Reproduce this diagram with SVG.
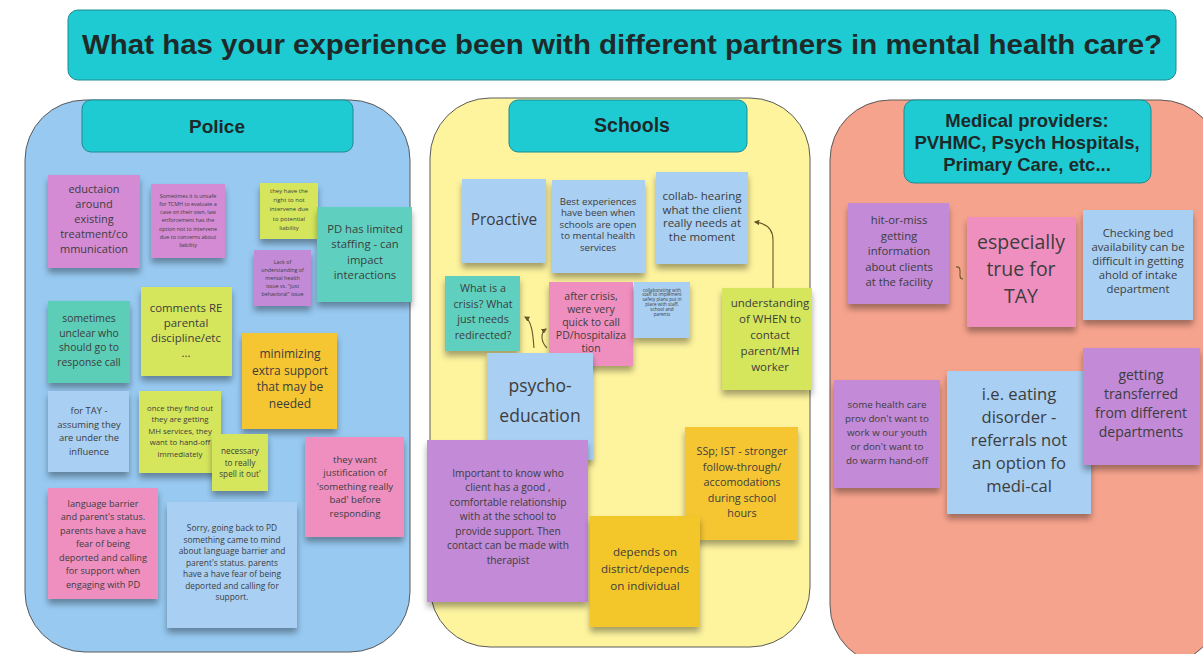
<svg xmlns="http://www.w3.org/2000/svg" width="1203" height="654" viewBox="0 0 1203 654">
<defs>
<filter id="sh" x="-20%" y="-20%" width="140%" height="150%">
<feDropShadow dx="0" dy="5" stdDeviation="3" flood-color="#000" flood-opacity="0.35"/>
</filter>
<marker id="ah" viewBox="0 0 10 10" refX="8" refY="5" markerWidth="5" markerHeight="5" orient="auto-start-reverse">
<path d="M0,0 L10,5 L0,10 Z" fill="#6b5526"/>
</marker>
<style>
.panel{stroke:#5a5a5a;stroke-width:1}
.hdr{fill:#1fcbd3;stroke:#1f8a90;stroke-width:1}
.ht{font-family:"Liberation Sans",Arial,sans-serif;font-weight:bold;fill:#1e2a2a;text-anchor:middle}
.n{filter:url(#sh)}
.t{font-family:"Open Sans","DejaVu Sans",sans-serif;fill:#3d3d3d;text-anchor:middle}
.mag{fill:#d48bd4}
.pur{fill:#c28ad7}
.teal{fill:#5fd0bf}
.lime{fill:#d5e65b}
.org{fill:#f5c532}
.pink{fill:#ef8fc0}
.blue{fill:#a9cff3}
.conn{fill:none;stroke:#6b5526;stroke-width:1.1}
</style>
</defs>
<rect width="1203" height="654" fill="#ffffff"/>

<g id="title">
<rect x="68" y="10" width="1108" height="70" rx="10" class="hdr"/>
<text x="622" y="54" class="ht" font-size="27.5" textLength="1080" lengthAdjust="spacingAndGlyphs">What has your experience been with different partners in mental health care?</text>
</g>

<g id="police-panel">
<rect x="25" y="100" width="385" height="552" rx="60" fill="#97c9f1" class="panel"/>
<rect x="82" y="100" width="271" height="52" rx="9" class="hdr"/>
<text x="217" y="133" class="ht" font-size="19">Police</text>
</g>

<g id="schools-panel">
<rect x="430" y="98" width="380" height="549" rx="60" fill="#fef49e" class="panel"/>
<rect x="509" y="100" width="238" height="52" rx="9" class="hdr"/>
<text x="632" y="132" class="ht" font-size="19.5">Schools</text>
</g>

<g id="medical-panel">
<rect x="830" y="100" width="390" height="565" rx="60" fill="#f6a38d" class="panel"/>
<rect x="904" y="100" width="247" height="83" rx="10" class="hdr"/>
<text class="ht" font-size="18.5"><tspan x="1027" y="127">Medical providers:</tspan><tspan x="1027" y="149">PVHMC, Psych Hospitals,</tspan><tspan x="1027" y="171">Primary Care, etc...</tspan></text>
</g>

<!-- Police notes -->
<g id="p1"><rect x="48" y="175" width="92" height="93" class="n mag"/>
<text class="t" font-size="11"><tspan x="94" y="193">eductaion</tspan><tspan x="94" y="208">around</tspan><tspan x="94" y="223">existing</tspan><tspan x="94" y="238">treatment/co</tspan><tspan x="94" y="253">mmunication</tspan></text></g>

<g id="p2"><rect x="151" y="184" width="74" height="74" class="n mag"/>
<text class="t" font-size="5.4"><tspan x="188" y="197.5">Sometimes it is unsafe</tspan><tspan x="188" y="205.8">for TCMH to evaluate a</tspan><tspan x="188" y="214.1">case on their own, law</tspan><tspan x="188" y="222.4">enforcement has the</tspan><tspan x="188" y="230.7">option not to intervene</tspan><tspan x="188" y="239">due to concerns about</tspan><tspan x="188" y="247.3">liability</tspan></text></g>

<g id="p3"><rect x="260" y="183" width="58" height="56" class="n lime"/>
<text class="t" font-size="6"><tspan x="289" y="193">they have the</tspan><tspan x="289" y="202.2">right to not</tspan><tspan x="289" y="211.4">intervene due</tspan><tspan x="289" y="220.6">to potential</tspan><tspan x="289" y="229.8">liability</tspan></text></g>

<g id="p4"><rect x="254" y="250" width="57" height="56" class="n pur"/>
<text class="t" font-size="5.3"><tspan x="282.5" y="263.5">Lack of</tspan><tspan x="282.5" y="271.5">understanding of</tspan><tspan x="282.5" y="279.5">mental health</tspan><tspan x="282.5" y="287.5">issue vs. "just</tspan><tspan x="282.5" y="295.5">behavioral" issue</tspan></text></g>

<g id="p5"><rect x="317" y="207" width="95" height="95" class="n teal"/>
<text class="t" font-size="11.3"><tspan x="365" y="232.5">PD has limited</tspan><tspan x="365" y="248">staffing - can</tspan><tspan x="365" y="263.5">impact</tspan><tspan x="365" y="279">interactions</tspan></text></g>

<g id="p6"><rect x="48" y="301" width="82" height="82" class="n teal" style="fill:#5ccdb6"/>
<text class="t" font-size="10.4"><tspan x="89" y="322">sometimes</tspan><tspan x="89" y="336.5">unclear who</tspan><tspan x="89" y="351">should go to</tspan><tspan x="89" y="365.5">response call</tspan></text></g>

<g id="p7"><rect x="141" y="287" width="91" height="89" class="n lime"/>
<text class="t" font-size="11.4"><tspan x="186" y="311.5">comments RE</tspan><tspan x="186" y="326.5">parental</tspan><tspan x="186" y="341.5">discipline/etc</tspan><tspan x="186" y="356.5">...</tspan></text></g>

<g id="p8"><rect x="242" y="333" width="95" height="96" class="n org"/>
<text class="t" font-size="12"><tspan x="290" y="358">minimizing</tspan><tspan x="290" y="374.5">extra support</tspan><tspan x="290" y="391">that may be</tspan><tspan x="290" y="407.5">needed</tspan></text></g>

<g id="p9"><rect x="48" y="391" width="81" height="81" class="n blue"/>
<text class="t" font-size="9.4"><tspan x="89" y="414">for TAY -</tspan><tspan x="89" y="427.5">assuming they</tspan><tspan x="89" y="441">are under the</tspan><tspan x="89" y="454.5">influence</tspan></text></g>

<g id="p10"><rect x="139" y="391" width="82" height="82" class="n lime"/>
<text class="t" font-size="7.8"><tspan x="180" y="410.5">once they find out</tspan><tspan x="180" y="422">they are getting</tspan><tspan x="180" y="433.5">MH services, they</tspan><tspan x="180" y="445">want to hand-off</tspan><tspan x="180" y="456.5">immediately</tspan></text></g>

<g id="p11"><rect x="212" y="434" width="56" height="57" class="n lime"/>
<text class="t" font-size="8.2"><tspan x="240" y="454">necessary</tspan><tspan x="240" y="466">to really</tspan><tspan x="240" y="477">spell it out'</tspan></text></g>

<g id="p12"><rect x="305" y="437" width="99" height="100" class="n pink"/>
<text class="t" font-size="9.6"><tspan x="355" y="462.5">they want</tspan><tspan x="355" y="476">justification of</tspan><tspan x="355" y="489.5">'something really</tspan><tspan x="355" y="503">bad' before</tspan><tspan x="355" y="516.5">responding</tspan></text></g>

<g id="p13"><rect x="48" y="488" width="110" height="111" class="n pink"/>
<text class="t" font-size="9.2"><tspan x="103" y="506.5">language barrier</tspan><tspan x="103" y="520">and parent's status.</tspan><tspan x="103" y="533.5">parents have a have</tspan><tspan x="103" y="547">fear of being</tspan><tspan x="103" y="560.5">deported and calling</tspan><tspan x="103" y="574">for support when</tspan><tspan x="103" y="587.5">engaging with PD</tspan></text></g>

<g id="p14"><rect x="167" y="502" width="130" height="126" class="n blue"/>
<text class="t" font-size="8.4"><tspan x="232" y="531">Sorry, going back to PD</tspan><tspan x="232" y="542.5">something came to mind</tspan><tspan x="232" y="554">about language barrier and</tspan><tspan x="232" y="565.5">parent's status. parents</tspan><tspan x="232" y="577">have a have fear of being</tspan><tspan x="232" y="588.5">deported and calling for</tspan><tspan x="232" y="600">support.</tspan></text></g>

<!-- Schools notes -->
<g id="s1"><rect x="462" y="179" width="84" height="84" class="n blue"/>
<text class="t" font-size="15.4"><tspan x="504" y="224.5">Proactive</tspan></text></g>

<g id="s2"><rect x="552" y="180" width="93" height="93" class="n blue"/>
<text class="t" font-size="9.7"><tspan x="598" y="204.5">Best experiences</tspan><tspan x="598" y="216">have been when</tspan><tspan x="598" y="227.5">schools are open</tspan><tspan x="598" y="239">to mental health</tspan><tspan x="598" y="250.5">services</tspan></text></g>

<g id="s3"><rect x="656" y="172" width="92" height="92" class="n blue"/>
<text class="t" font-size="11.5"><tspan x="702" y="200">collab- hearing</tspan><tspan x="702" y="213.5">what the client</tspan><tspan x="702" y="227">really needs at</tspan><tspan x="702" y="240.5">the moment</tspan></text></g>

<g id="s4"><rect x="445" y="276" width="75" height="75" class="n teal"/>
<text class="t" font-size="10.8"><tspan x="483" y="292">What is a</tspan><tspan x="483" y="307.5">crisis? What</tspan><tspan x="483" y="323">just needs</tspan><tspan x="483" y="338.5">redirected?</tspan></text></g>

<g id="s5"><rect x="549" y="282" width="84" height="84" class="n pink"/>
<text class="t" font-size="10.5"><tspan x="591" y="299.5">after crisis,</tspan><tspan x="591" y="312.5">were very</tspan><tspan x="591" y="325.5">quick to call</tspan><tspan x="591" y="338.5">PD/hospitaliza</tspan><tspan x="591" y="351.5">tion</tspan></text></g>

<g id="s6"><rect x="634" y="282" width="56" height="56" class="n blue"/>
<text class="t" font-size="4.6"><tspan x="662" y="291.5">collaborating with</tspan><tspan x="662" y="296.3">staff to implement</tspan><tspan x="662" y="301.1">safety plans put in</tspan><tspan x="662" y="305.9">place with staff,</tspan><tspan x="662" y="310.7">school and</tspan><tspan x="662" y="315.5">parents</tspan></text></g>

<g id="s7"><rect x="722" y="288" width="90" height="102" class="n lime"/>
<text class="t" font-size="11.5"><tspan x="770" y="307">understanding</tspan><tspan x="770" y="323">of WHEN to</tspan><tspan x="770" y="339">contact</tspan><tspan x="770" y="355">parent/MH</tspan><tspan x="770" y="371">worker</tspan></text></g>

<g id="s8"><rect x="487" y="353" width="106" height="107" class="n blue"/>
<text class="t" font-size="17.5"><tspan x="540" y="392">psycho-</tspan><tspan x="540" y="422">education</tspan></text></g>

<g id="s9"><rect x="427" y="440" width="161" height="162" class="n pur"/>
<text class="t" font-size="10.2"><tspan x="508" y="476.5">Important to know who</tspan><tspan x="508" y="491">client has a good ,</tspan><tspan x="508" y="505.5">comfortable relationship</tspan><tspan x="508" y="520">with at the school to</tspan><tspan x="508" y="534.5">provide support.  Then</tspan><tspan x="508" y="549">contact can be made with</tspan><tspan x="508" y="563.5">therapist</tspan></text></g>

<g id="s10"><rect x="685" y="427" width="113" height="113" class="n org"/>
<text class="t" font-size="10.8"><tspan x="742" y="455">SSp; IST - stronger</tspan><tspan x="742" y="470.5">follow-through/</tspan><tspan x="742" y="486">accomodations</tspan><tspan x="742" y="501.5">during school</tspan><tspan x="742" y="517">hours</tspan></text></g>

<g id="s11"><rect x="590" y="516" width="110" height="111" class="n org" style="fill:#f3c62b"/>
<text class="t" font-size="11.6"><tspan x="645" y="556">depends on</tspan><tspan x="645" y="573">district/depends</tspan><tspan x="645" y="590">on individual</tspan></text></g>

<!-- Medical notes -->
<g id="m1"><rect x="848" y="203" width="101" height="101" class="n pur"/>
<text class="t" font-size="11.3"><tspan x="899" y="224">hit-or-miss</tspan><tspan x="899" y="239.5">getting</tspan><tspan x="899" y="255">information</tspan><tspan x="899" y="270.5">about clients</tspan><tspan x="899" y="286">at the facility</tspan></text></g>

<g id="m2"><rect x="967" y="217" width="109" height="110" class="n pink"/>
<text class="t" font-size="19.5"><tspan x="1021" y="249">especially</tspan><tspan x="1021" y="275.5">true for</tspan><tspan x="1021" y="303">TAY</tspan></text></g>

<g id="m3"><rect x="1083" y="210" width="110" height="110" class="n blue"/>
<text class="t" font-size="11.3"><tspan x="1138" y="237">Checking bed</tspan><tspan x="1138" y="251">availability can be</tspan><tspan x="1138" y="265">difficult in getting</tspan><tspan x="1138" y="279">ahold of intake</tspan><tspan x="1138" y="293">department</tspan></text></g>

<g id="m4"><rect x="834" y="380" width="106" height="108" class="n pur"/>
<text class="t" font-size="9.8"><tspan x="887" y="407.5">some health care</tspan><tspan x="887" y="421.5">prov don't want to</tspan><tspan x="887" y="435.5">work w our youth</tspan><tspan x="887" y="449.5">or don't want to</tspan><tspan x="887" y="463.5">do warm hand-off</tspan></text></g>

<g id="m5"><rect x="947" y="371" width="144" height="143" class="n blue"/>
<text class="t" font-size="16.6"><tspan x="1019" y="400">i.e. eating</tspan><tspan x="1019" y="423">disorder -</tspan><tspan x="1019" y="446">referrals not</tspan><tspan x="1019" y="469">an option fo</tspan><tspan x="1019" y="492">medi-cal</tspan></text></g>

<g id="m6"><rect x="1083" y="348" width="117" height="117" class="n pur"/>
<text class="t" font-size="14"><tspan x="1141" y="380">getting</tspan><tspan x="1141" y="399">transferred</tspan><tspan x="1141" y="418">from different</tspan><tspan x="1141" y="437">departments</tspan></text></g>

<g id="connectors">
<path class="conn" d="M773 288 L773 240 Q773 224 755 222" marker-end="url(#ah)"/>
<path class="conn" d="M534 348 C533 335 532 321 525 317" marker-end="url(#ah)"/>
<path class="conn" d="M547 348 C541 342 540 333 546 329" marker-end="url(#ah)"/>
<path class="conn" d="M956 267 Q960 266 960 271 L960 276 Q960 279 963 279"/>
</g>
</svg>
